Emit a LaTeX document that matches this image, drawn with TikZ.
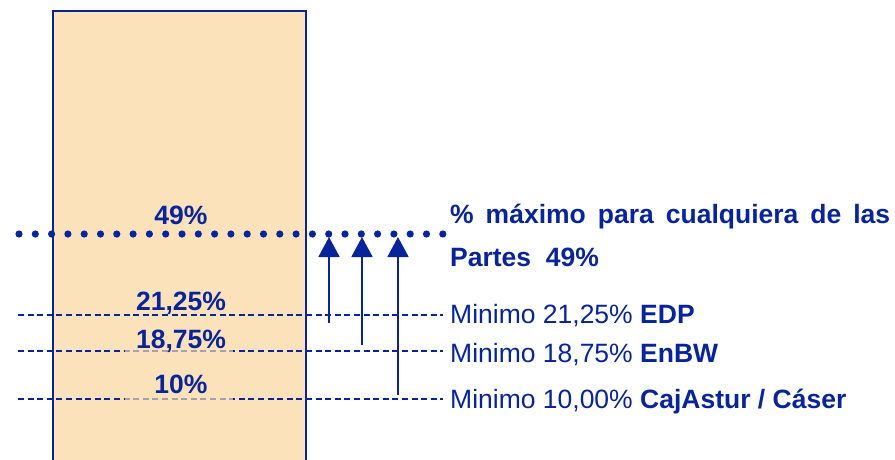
\documentclass[tikz,border=0pt]{standalone}
\usepackage{fontspec}
\setmainfont{Liberation Sans}
\usetikzlibrary{arrows.meta}
\definecolor{dblue}{RGB}{8,36,155}
\definecolor{peach}{RGB}{252,226,186}
\tikzset{
  dashline/.style={draw=dblue, line width=1.8pt, dash pattern=on 6pt off 3.6pt},
  uparrow/.style={draw=dblue, line width=1.8pt, -{Triangle[width=21pt,length=20pt]}},
  boxlabel/.style={font=\bfseries\fontsize{26.5}{30}\selectfont, text=dblue, anchor=base, inner sep=0pt},
  sidelabel/.style={font=\fontsize{26.5}{30}\selectfont, text=dblue, anchor=base west, inner sep=0pt},
  dotmark/.style={fill=dblue, draw=none},
  veil/.style={fill=peach, fill opacity=0.65, draw=none}
}
\begin{document}
\begin{tikzpicture}[x=1pt,y=-1pt]
\useasboundingbox (0,0) rectangle (895,459);
\clip (0,0) rectangle (895,459);
% column
\draw[draw=dblue, line width=2pt, fill=peach] (53,11) rectangle (306,475);
% dashed level lines
\coordinate (l1a) at (18,315); \coordinate (l1b) at (443,315);
\coordinate (l2a) at (18,351); \coordinate (l2b) at (443,351);
\coordinate (l3a) at (18,399); \coordinate (l3b) at (443,399);
\draw[dashline] (l1a) -- (l1b);
\draw[dashline] (l2a) -- (l2b);
\draw[dashline] (l3a) -- (l3b);
\fill[veil] (125,347) rectangle (233,355);
\fill[veil] (125,395) rectangle (233,403);
% dotted 49% line
\foreach \k in {0,...,26}{
  \fill[dotmark] ({19+16.3*\k},234) circle (3.6pt);
}
% arrows
\coordinate (a1s) at (329,323); \coordinate (a1e) at (329,237);
\coordinate (a2s) at (362,345); \coordinate (a2e) at (362,237);
\coordinate (a3s) at (398,395); \coordinate (a3e) at (398,237);
\draw[uparrow] (a1s) -- (a1e);
\draw[uparrow] (a2s) -- (a2e);
\draw[uparrow] (a3s) -- (a3e);
% box labels
\node[boxlabel] (p49) at (181,224) {49\%};
\node[boxlabel] (p21) at (181,310) {21,25\%};
\node[boxlabel] (p18) at (181,348) {18,75\%};
\node[boxlabel] (p10) at (181,393) {10\%};
% side labels
\node[sidelabel, font=\bfseries\fontsize{26.5}{30}\selectfont] (max1) at (450,223) {\makebox[440pt][s]{\% máximo para cualquiera de las}};
\node[sidelabel, font=\bfseries\fontsize{26.5}{30}\selectfont] (max2) at (450,266) {Partes\ \ 49\%};
\node[sidelabel] (m1) at (450,323) {Minimo 21,25\% \textbf{EDP}};
\node[sidelabel] (m2) at (450,362) {Minimo 18,75\% \textbf{EnBW}};
\node[sidelabel] (m3) at (450,408) {Minimo 10,00\% \textbf{CajAstur / Cáser}};
\end{tikzpicture}
\end{document}
